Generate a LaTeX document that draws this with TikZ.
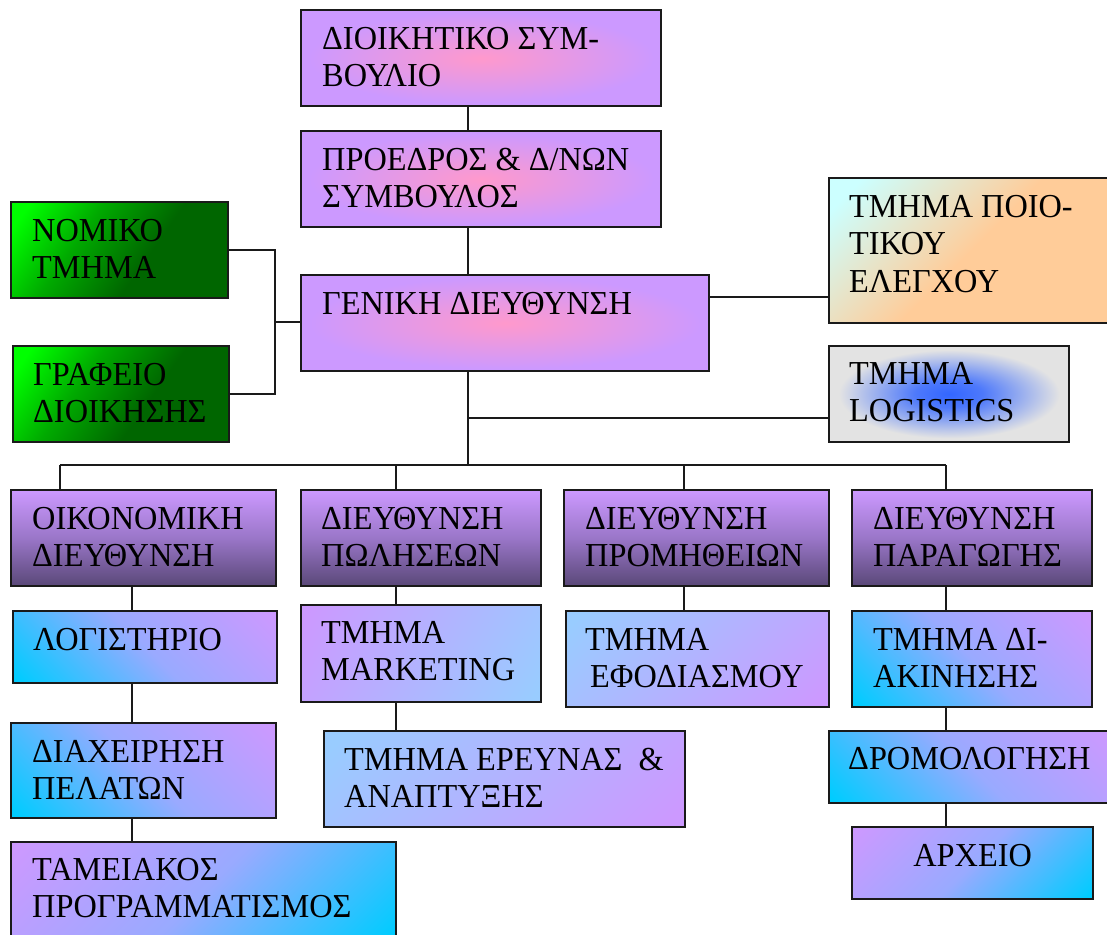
\documentclass[tikz,border=0pt]{standalone}
\usepackage{fontspec}
\setmainfont{Liberation Serif}[FakeStretch=0.965]
\usetikzlibrary{calc}

% palette
\definecolor{lilac}{HTML}{CC99FF}
\definecolor{rose}{HTML}{FF99CC}
\definecolor{leafhi}{HTML}{00FF00}
\definecolor{leafmid}{HTML}{00AA00}
\definecolor{leaflo}{HTML}{006600}
\definecolor{paleaqua}{HTML}{CCFFFF}
\definecolor{peach}{HTML}{FFCC99}
\definecolor{royal}{HTML}{3366FF}
\definecolor{silver}{HTML}{E3E3E3}
\definecolor{plumdark}{HTML}{5A4878}
\definecolor{plummid}{HTML}{9A76C8}
\definecolor{skyc}{HTML}{00CCFF}
\definecolor{skyl}{HTML}{99CCFF}
\definecolor{periwinkle}{HTML}{99AAFF}
\definecolor{edge}{HTML}{1A1A1A}

% custom fills
\pgfdeclareradialshading{roseglow}{\pgfpoint{0bp}{0bp}}{color(0bp)=(rose); color(24bp)=(lilac); color(50bp)=(lilac)}
\pgfdeclareradialshading{blueglow}{\pgfpoint{0bp}{0bp}}{color(0bp)=(royal); color(7bp)=(royal!85!silver); color(23bp)=(silver); color(50bp)=(silver)}
\pgfdeclareverticalshading{plumfade}{100bp}{color(0bp)=(plumdark); color(25bp)=(plumdark); color(50bp)=(plummid); color(75bp)=(lilac); color(100bp)=(lilac)}
\pgfdeclareverticalshading{aquapeach}{100bp}{color(0bp)=(peach); color(50bp)=(peach); color(80bp)=(paleaqua); color(100bp)=(paleaqua)}
\pgfdeclareverticalshading{leaffade}{100bp}{color(0bp)=(leaflo); color(42bp)=(leaflo); color(62bp)=(leafmid); color(80bp)=(leafhi); color(100bp)=(leafhi)}
\pgfdeclareverticalshading{lilacsky}{100bp}{color(0bp)=(skyc); color(16bp)=(skyc); color(50bp)=(periwinkle); color(84bp)=(lilac); color(100bp)=(lilac)}
\pgfdeclareverticalshading{lilacpale}{100bp}{color(0bp)=(skyl); color(18bp)=(skyl); color(82bp)=(lilac); color(100bp)=(lilac)}
\pgfdeclareverticalshading{palelilac}{100bp}{color(0bp)=(lilac); color(18bp)=(lilac); color(82bp)=(skyl); color(100bp)=(skyl)}

\tikzset{
  box/.style={draw=edge, line width=2.2pt, inner sep=0pt, anchor=north west, shade},
  txt/.style={inner sep=0pt, anchor=north west, align=left, font=\fontsize{33.5}{37.5}\selectfont},
  wire/.style={draw=edge, line width=1.8pt},
  board/.style={shading=roseglow},
  legalfill/.style={shading=leaffade, shading angle=55},
  qcfill/.style={shading=aquapeach, shading angle=45},
  logfill/.style={shading=blueglow},
  dirfill/.style={shading=plumfade},
  upcyan/.style={shading=lilacsky, shading angle=-45},
  downcyan/.style={shading=lilacsky, shading angle=45},
  mktfill/.style={shading=lilacpale, shading angle=60},
  bluelilac/.style={shading=palelilac, shading angle=45},
}

\begin{document}
\begin{tikzpicture}[x=1pt, y=-1pt]
\useasboundingbox (0,0) rectangle (1107,934);
\fill[white] (0,0) rectangle (1107,934);

% boxes
\node[box, board, minimum width=360pt, minimum height=96pt] (dsb) at (300,9) {};
\node[box, board, minimum width=360pt, minimum height=96pt] (ceo) at (300,130) {};
\node[box, board, minimum width=408pt, minimum height=96pt] (gm) at (300,274) {};
\node[box, legalfill, minimum width=217pt, minimum height=96pt] (legal) at (10,201) {};
\node[box, legalfill, minimum width=216pt, minimum height=96pt] (office) at (12,345) {};
\node[box, qcfill, minimum width=284pt, minimum height=145pt] (qc) at (828,177) {};
\node[box, logfill, minimum width=240pt, minimum height=96pt] (logi) at (828,345) {};

\node[box, dirfill, minimum width=265pt, minimum height=96pt] (fin) at (10,489) {};
\node[box, dirfill, minimum width=240pt, minimum height=96pt] (sales) at (300,489) {};
\node[box, dirfill, minimum width=265pt, minimum height=96pt] (proc) at (563,489) {};
\node[box, dirfill, minimum width=240pt, minimum height=96pt] (prod) at (851,489) {};

\node[box, upcyan, minimum width=264pt, minimum height=72pt] (acc) at (12,610) {};
\node[box, mktfill, minimum width=240pt, minimum height=97pt] (mkt) at (300,604) {};
\node[box, bluelilac, minimum width=263pt, minimum height=96pt] (supply) at (565,610) {};
\node[box, upcyan, minimum width=240pt, minimum height=96pt] (dist) at (851,610) {};
\node[box, upcyan, minimum width=265pt, minimum height=95pt] (crm) at (10,722) {};
\node[box, bluelilac, minimum width=361pt, minimum height=96pt] (rnd) at (323,730) {};
\node[box, upcyan, minimum width=284pt, minimum height=72pt] (route) at (828,730) {};
\node[box, downcyan, minimum width=241pt, minimum height=72pt] (arch) at (851,826) {};
\node[box, downcyan, minimum width=385pt, minimum height=100pt] (cash) at (10,841) {};

% captions
\node[txt] (dsbT) at ($(dsb.north west)+(22,18)$) {ΔΙΟΙΚΗΤΙΚΟ ΣΥΜ-\\ΒΟΥΛΙΟ};
\node[txt] (ceoT) at ($(ceo.north west)+(22,18)$) {ΠΡΟΕΔΡΟΣ \& Δ/ΝΩΝ\\ΣΥΜΒΟΥΛΟΣ};
\node[txt] (gmT) at ($(gm.north west)+(22,18)$) {ΓΕΝΙΚΗ ΔΙΕΥΘΥΝΣΗ};
\node[txt] (legalT) at ($(legal.north west)+(22,18)$) {ΝΟΜΙΚΟ\\ΤΜΗΜΑ};
\node[txt] (officeT) at ($(office.north west)+(21,18)$) {ΓΡΑΦΕΙΟ\\ΔΙΟΙΚΗΣΗΣ};
\node[txt] (qcT) at ($(qc.north west)+(21,18)$) {ΤΜΗΜΑ ΠΟΙΟ-\\ΤΙΚΟΥ\\ΕΛΕΓΧΟΥ};
\node[txt] (logiT) at ($(logi.north west)+(21,17)$) {ΤΜΗΜΑ\\LOGISTICS};

\node[txt] (finT) at ($(fin.north west)+(22,18)$) {ΟΙΚΟΝΟΜΙΚΗ\\ΔΙΕΥΘΥΝΣΗ};
\node[txt] (salesT) at ($(sales.north west)+(21,18)$) {ΔΙΕΥΘΥΝΣΗ\\ΠΩΛΗΣΕΩΝ};
\node[txt] (procT) at ($(proc.north west)+(22,18)$) {ΔΙΕΥΘΥΝΣΗ\\ΠΡΟΜΗΘΕΙΩΝ};
\node[txt] (prodT) at ($(prod.north west)+(22,18)$) {ΔΙΕΥΘΥΝΣΗ\\ΠΑΡΑΓΩΓΗΣ};

\node[txt] (accT) at ($(acc.north west)+(21,18)$) {ΛΟΓΙΣΤΗΡΙΟ};
\node[txt] (mktT) at ($(mkt.north west)+(21,17)$) {ΤΜΗΜΑ\\MARKETING};
\node[txt] (supplyT) at ($(supply.north west)+(20,18)$) {ΤΜΗΜΑ\\\hspace*{5pt}ΕΦΟΔΙΑΣΜΟΥ};
\node[txt] (distT) at ($(dist.north west)+(22,18)$) {ΤΜΗΜΑ ΔΙ-\\ΑΚΙΝΗΣΗΣ};
\node[txt] (crmT) at ($(crm.north west)+(22,18)$) {ΔΙΑΧΕΙΡΗΣΗ\\ΠΕΛΑΤΩΝ};
\node[txt] (rndT) at ($(rnd.north west)+(21,18)$) {ΤΜΗΜΑ ΕΡΕΥΝΑΣ\ \ \&\\ΑΝΑΠΤΥΞΗΣ};
\node[txt] (routeT) at ($(route.north west)+(20,17)$) {ΔΡΟΜΟΛΟΓΗΣΗ};
\node[txt, anchor=north] (archT) at ($(arch.north)+(0,18)$) {ΑΡΧΕΙΟ};
\node[txt] (cashT) at ($(cash.north west)+(22,17)$) {ΤΑΜΕΙΑΚΟΣ\\ΠΡΟΓΡΑΜΜΑΤΙΣΜΟΣ};

% junction points of the connector tree
\coordinate (spine) at (468,0);
\coordinate (busL) at (60,465);
\coordinate (busR) at (946,465);
\coordinate (salesX) at (396,465);
\coordinate (procX) at (684,465);
\coordinate (finX) at (132,0);
\coordinate (legalJ) at (275,322);
\coordinate (qcY) at (0,297);
\coordinate (logY) at (0,418);

% connectors
\draw[wire] (dsb.south -| spine) -- (ceo.north -| spine);
\draw[wire] (ceo.south -| spine) -- (gm.north -| spine);
\draw[wire] (gm.south -| spine) -- (spine |- busL);
\draw[wire] (legal.east) -| (legalJ);
\draw[wire] (office.east) -| (legalJ);
\draw[wire] (legalJ) -- (gm.west |- legalJ);
\draw[wire] (gm.east |- qcY) -- (qc.west |- qcY);
\draw[wire] (spine |- logY) -- (logi.west |- logY);
\draw[wire] (busL) -- (busR);
\draw[wire] (busL) -- (fin.north -| busL);
\draw[wire] (salesX) -- (sales.north -| salesX);
\draw[wire] (procX) -- (proc.north -| procX);
\draw[wire] (busR) -- (prod.north -| busR);
\draw[wire] (fin.south -| finX) -- (acc.north -| finX);
\draw[wire] (acc.south -| finX) -- (crm.north -| finX);
\draw[wire] (crm.south -| finX) -- (cash.north -| finX);
\draw[wire] (sales.south -| salesX) -- (mkt.north -| salesX);
\draw[wire] (mkt.south -| salesX) -- (rnd.north -| salesX);
\draw[wire] (proc.south -| procX) -- (supply.north -| procX);
\draw[wire] (prod.south -| busR) -- (dist.north -| busR);
\draw[wire] (dist.south -| busR) -- (route.north -| busR);
\draw[wire] (route.south -| busR) -- (arch.north -| busR);
\end{tikzpicture}
\end{document}
